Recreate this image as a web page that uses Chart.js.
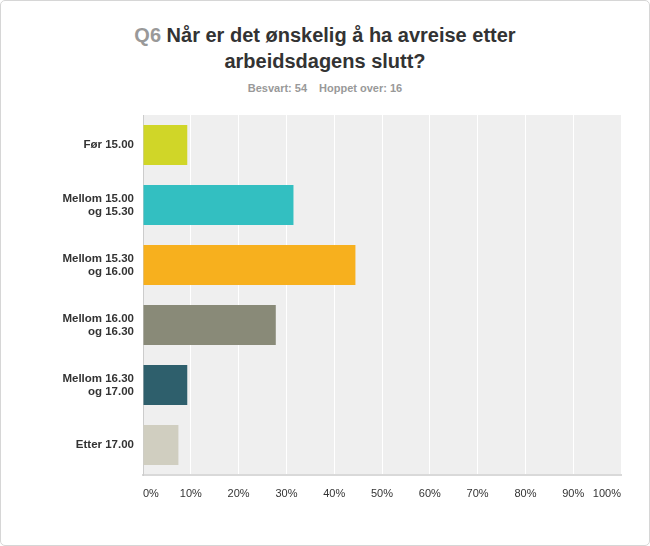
<!DOCTYPE html>
<html>
<head>
<meta charset="utf-8">
<script src="https://cdn.jsdelivr.net/npm/chart.js@4"></script>
<style>
  body { margin: 0; background: #fff; font-family: Arial, "Liberation Sans", sans-serif; }
  #wrap { position: relative; width: 648px; height: 544px; border: 1px solid #d6d6d6; border-radius: 5px; overflow: hidden; }
  #title { position: absolute; left: 0; top: 21px; width: 648px; text-align: center; font-size: 20px; font-weight: bold; color: #333; line-height: 26px; }
  #title .q { color: #999; }
  #sub { position: absolute; left: 0; top: 81px; width: 648px; text-align: center; font-size: 11px; font-weight: bold; color: #999; }
  #sub span { margin: 0 6px; }
  canvas { position: absolute; left: -1px; top: -1px; }
</style>
</head>
<body>
<div id="wrap">
  <div id="title"><span class="q">Q6</span> Når er det ønskelig å ha avreise etter<br>arbeidsdagens slutt?</div>
  <div id="sub"><span>Besvart: 54</span><span>Hoppet over: 16</span></div>
  <canvas id="myChart" width="650" height="546"></canvas>
</div>
<script>
// Svaralternativer og prosent
const categories = ["Før 15.00", ["Mellom 15.00", "og 15.30"], ["Mellom 15.30", "og 16.00"], ["Mellom 16.00", "og 16.30"], ["Mellom 16.30", "og 17.00"], "Etter 17.00"];
const percentages = [9.26, 31.48, 44.44, 27.78, 9.26, 7.41];
const barColors = ["#d0d628", "#33bfc1", "#f7b01e", "#898a78", "#2e5f6c", "#d0cec0"];
const xTicks = [0, 10, 20, 30, 40, 50, 60, 70, 80, 90, 100];

// Grå bakgrunn i plottet
const plotBg = {
    id: 'plotBg',
    beforeDraw(chart) {
        const { ctx, chartArea } = chart;
        ctx.save();
        ctx.fillStyle = '#efefef';
        ctx.fillRect(chartArea.left, chartArea.top, chartArea.right - chartArea.left, chartArea.bottom - chartArea.top);
        ctx.restore();
    }
};

new Chart("myChart", {
    type: "bar",
    data: {
        labels: categories,
        datasets: [{
            data: percentages,
            backgroundColor: barColors,
            barPercentage: 0.667,
            categoryPercentage: 1
        }]
    },
    options: {
        indexAxis: 'y',
        responsive: false,
        animation: false,
        layout: { padding: { top: 115, right: 29, left: 0, bottom: 0 } },
        plugins: {
            legend: { display: false },
            tooltip: { enabled: false }
        },
        scales: {
            x: {
                min: 0,
                max: 100,
                afterBuildTicks(scale) {
                    scale.ticks = xTicks.map(v => ({ value: v }));
                },
                afterFit(scale) { scale.height = 71; },
                grid: { color: '#ffffff', lineWidth: 1, drawTicks: false },
                border: { color: '#d9d9d9', width: 2 },
                ticks: {
                    align: 'inner',
                    padding: 12,
                    color: '#333',
                    font: { family: 'Arial, "Liberation Sans"', size: 11 },
                    callback: v => v + '%'
                }
            },
            y: {
                afterFit(scale) { scale.width = 143; },
                grid: { display: false, drawTicks: false },
                border: { color: '#cccccc', width: 1 },
                ticks: {
                    padding: 9,
                    color: '#333',
                    font: { family: 'Arial, "Liberation Sans"', size: 11.5, weight: 'bold', lineHeight: 1.15 }
                }
            }
        }
    },
    plugins: [plotBg]
});
</script>
</body>
</html>
